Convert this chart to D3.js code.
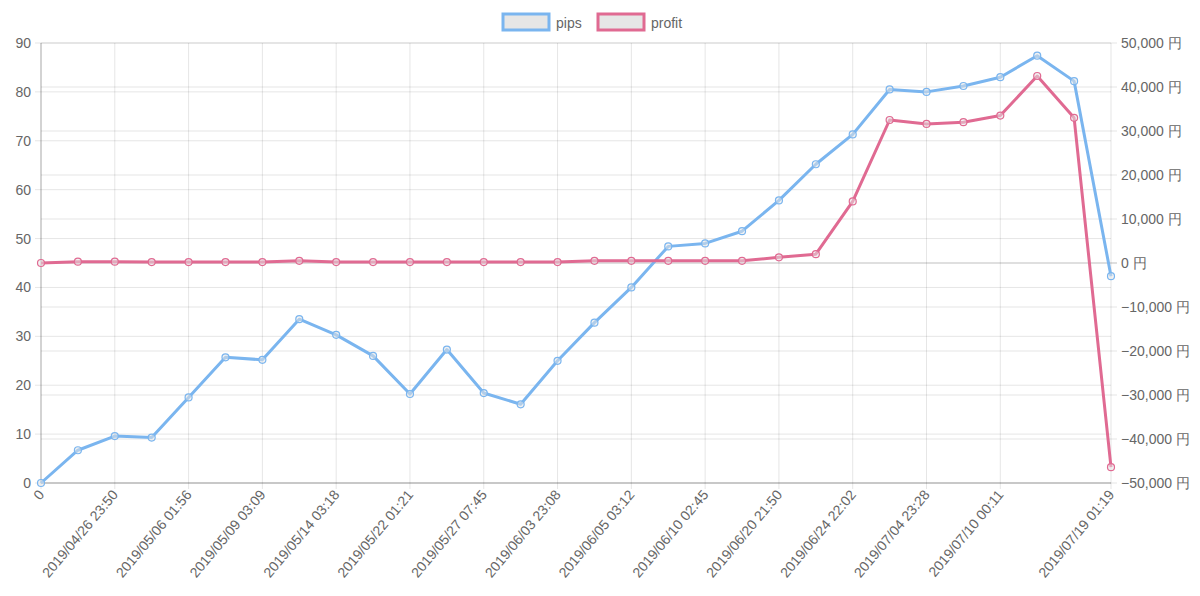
<!DOCTYPE html><html><head><meta charset="utf-8"><script src="https://cdn.jsdelivr.net/npm/d3@7"></script>
<style>body{margin:0;background:#fff}text{font-family:"Helvetica Neue",Arial,"Liberation Sans",sans-serif}</style></head><body><svg id="c" width="1200" height="596"></svg><script>
const labels=["0","2019/04/25 10:12","2019/04/26 23:50","2019/05/01 14:30","2019/05/06 01:56","2019/05/08 09:40","2019/05/09 03:09","2019/05/13 11:02","2019/05/14 03:18","2019/05/20 16:45","2019/05/22 01:21","2019/05/24 22:10","2019/05/27 07:45","2019/05/31 12:30","2019/06/03 23:08","2019/06/04 18:20","2019/06/05 03:12","2019/06/07 10:05","2019/06/10 02:45","2019/06/17 14:40","2019/06/20 21:50","2019/06/21 09:15","2019/06/24 22:02","2019/07/02 11:30","2019/07/04 23:28","2019/07/08 15:10","2019/07/10 00:11","2019/07/12 20:40","2019/07/16 08:55","2019/07/19 01:19"];
const pips=[0,6.7,9.6,9.3,17.5,25.7,25.2,33.5,30.3,26,18.2,27.3,18.4,16.1,25,32.8,40,48.4,49,51.5,57.8,65.2,71.3,80.5,80,81.2,83,87.4,82.2,42.3];
const profit=[0,300,300,200,200,200,200,500,200,200,200,200,200,200,200,500,500,500,500,500,1300,2000,14000,32500,31600,32000,33500,42500,33000,-46400];
const leftTicks=d3.range(0,91,10), rightTicks=d3.range(-50000,50001,10000);
const svg=d3.select("#c");
const L=41,R=1111,T=43,B=483;
const x=d3.scalePoint().domain(d3.range(labels.length)).range([L,R]);
const yl=d3.scaleLinear().domain([0,90]).range([B,T]);
const yr=d3.scaleLinear().domain([-50000,50000]).range([B,T]);
const shown=d3.range(labels.length).filter(i=>i%2===0&&i<=26).concat([29]);
const g=svg.append("g");
// grids
g.selectAll(".gl").data(leftTicks).join("line").attr("x1",L-6).attr("x2",R).attr("y1",d=>yl(d)).attr("y2",d=>yl(d)).attr("stroke","rgba(0,0,0,0.1)");
g.selectAll(".gr").data(rightTicks).join("line").attr("x1",L).attr("x2",R+6).attr("y1",d=>yr(d)).attr("y2",d=>yr(d)).attr("stroke",d=>d===0?"rgba(0,0,0,0.25)":"rgba(0,0,0,0.1)");
g.selectAll(".gx").data(shown).join("line").attr("x1",d=>x(d)).attr("x2",d=>x(d)).attr("y1",T).attr("y2",B+6).attr("stroke","rgba(0,0,0,0.1)");
g.append("line").attr("x1",L).attr("x2",L).attr("y1",T).attr("y2",B).attr("stroke","rgba(0,0,0,0.25)");
g.append("line").attr("x1",L).attr("x2",R).attr("y1",B).attr("y2",B).attr("stroke","rgba(0,0,0,0.25)");
// tick labels
g.selectAll(".tl").data(leftTicks).join("text").attr("x",L-10).attr("y",d=>yl(d)+5).attr("text-anchor","end").attr("font-size",14).attr("fill","#666").text(d=>d);
g.selectAll(".tr").data(rightTicks).join("text").attr("x",R+10).attr("y",d=>yr(d)+5).attr("font-size",14).attr("fill","#666").text(d=>d3.format(",")(d)+" 円");
g.selectAll(".tx").data(shown).join("text").attr("transform",d=>`translate(${x(d)+4},${B+12}) rotate(-50)`).attr("text-anchor","end").attr("font-size",14).attr("fill","#666").text(d=>labels[d]);
// lines
const series=[{v:pips,y:yl,c:"rgb(122,181,239)"},{v:profit,y:yr,c:"rgb(224,106,146)"}];
series.forEach(s=>{
  const line=d3.line().x((d,i)=>x(i)).y(d=>s.y(d));
  g.append("path").attr("d",line(s.v)).attr("fill","none").attr("stroke",s.c).attr("stroke-width",3).attr("stroke-linejoin","round");
  g.selectAll(null).data(s.v).join("circle").attr("cx",(d,i)=>x(i)).attr("cy",d=>s.y(d)).attr("r",3.5).attr("fill","rgba(230,230,230,0.5)").attr("stroke",s.c).attr("stroke-width",1.2);
});
// legend
const leg=[{n:"pips",c:"rgb(122,181,239)",x:503},{n:"profit",c:"rgb(224,106,146)",x:598}];
leg.forEach(l=>{
  g.append("rect").attr("x",l.x).attr("y",14).attr("width",46).attr("height",16).attr("fill","#e6e6e6").attr("stroke",l.c).attr("stroke-width",3);
  g.append("text").attr("x",l.x+53).attr("y",28).attr("font-size",14).attr("fill","#666").text(l.n);
});
</script></body></html>
